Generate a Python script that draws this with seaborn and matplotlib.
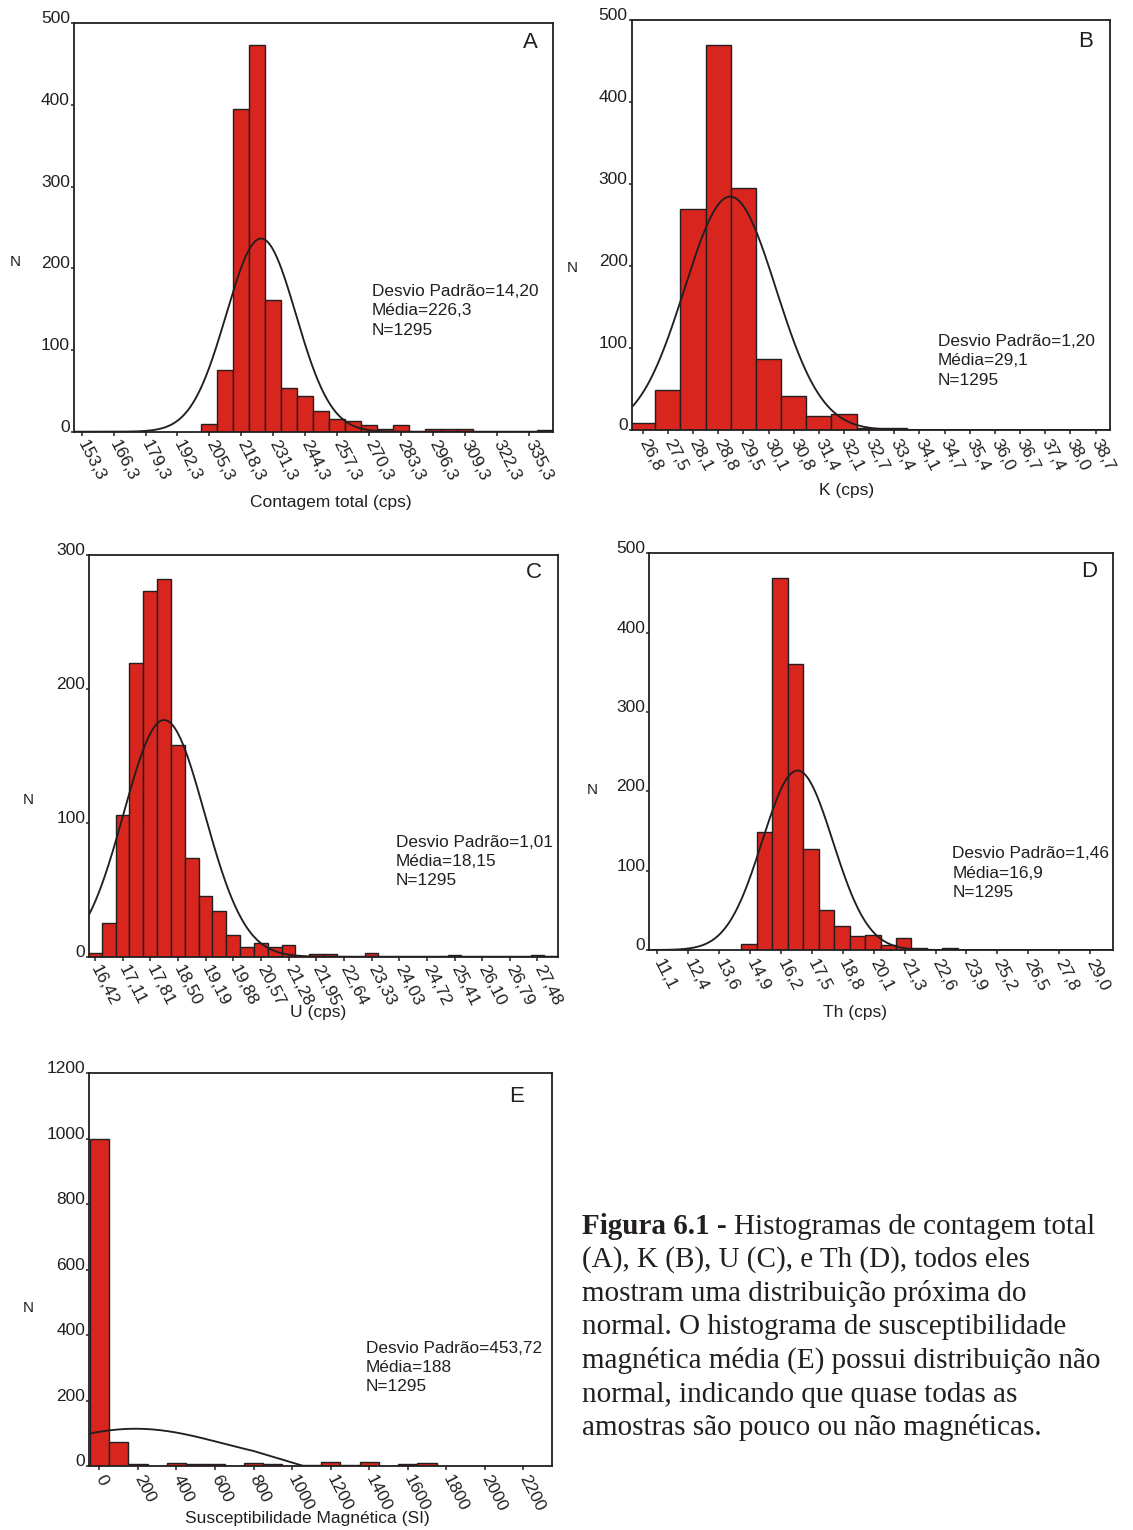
import numpy as np
import pandas as pd
import matplotlib
matplotlib.use("Agg")
import matplotlib.pyplot as plt
import seaborn as sns

# ---------------------------------------------------------------- data
# (A) contagem total
TOTAL_TICK_LABELS = ["153,3", "166,3", "179,3", "192,3", "205,3", "218,3", "231,3", "244,3",
                     "257,3", "270,3", "283,3", "296,3", "309,3", "322,3", "335,3"]
TOTAL_BIN_CENTERS = [205.3, 211.8, 218.3, 224.8, 231.3, 237.8, 244.3, 250.8, 257.3,
                     263.8, 270.3, 276.8, 283.3, 296.3, 302.8, 309.3, 341.8]
TOTAL_COUNTS = [9, 75, 395, 474, 161, 53, 44, 25, 16, 13, 8, 3, 8, 3, 3, 3, 2]
TOTAL_BIN_WIDTH = 6.5
TOTAL_SD, TOTAL_MEAN, TOTAL_N = "14,20", "226,3", 1295

# (B) potássio
K_TICK_LABELS = ["26,8", "27,5", "28,1", "28,8", "29,5", "30,1", "30,8", "31,4", "32,1", "32,7",
                 "33,4", "34,1", "34,7", "35,4", "36,0", "36,7", "37,4", "38,0", "38,7"]
K_BIN_CENTERS = [26.80, 27.46, 28.12, 28.78, 29.44, 30.11, 30.77, 31.43, 32.09, 32.75, 33.41]
K_COUNTS = [8, 49, 270, 470, 295, 87, 41, 17, 19, 3, 2]
K_BIN_WIDTH = 0.6611
K_SD, K_MEAN, K_N = "1,20", "29,1", 1295

# (C) urânio
U_TICK_LABELS = ["16,42", "17,11", "17,81", "18,50", "19,19", "19,88", "20,57", "21,28", "21,95",
                 "22,64", "23,33", "24,03", "24,72", "25,41", "26,10", "26,79", "27,48"]
U_BIN_CENTERS = [16.42, 16.77, 17.11, 17.46, 17.81, 18.15, 18.50, 18.84, 19.19, 19.53,
                 19.88, 20.22, 20.57, 20.91, 21.26, 21.95, 22.29, 23.33, 25.41, 27.48]
U_COUNTS = [3, 25, 106, 219, 273, 282, 158, 74, 45, 34, 16, 7, 10, 7, 9, 2, 2, 3, 1, 1]
U_BIN_WIDTH = 0.3456
U_SD, U_MEAN, U_N = "1,01", "18,15", 1295

# (D) tório
TH_TICK_LABELS = ["11,1", "12,4", "13,6", "14,9", "16,2", "17,5", "18,8", "20,1", "21,3", "22,6",
                  "23,9", "25,2", "26,5", "27,8", "29,0"]
TH_BIN_CENTERS = [14.90, 15.54, 16.18, 16.82, 17.46, 18.10, 18.74, 19.38, 20.01, 20.65,
                  21.29, 21.93, 23.21]
TH_COUNTS = [7, 149, 469, 361, 127, 50, 30, 18, 19, 6, 15, 3, 3]
TH_BIN_WIDTH = 0.6393
TH_SD, TH_MEAN, TH_N = "1,46", "16,9", 1295

# (E) susceptibilidade magnética
SUSC_TICK_LABELS = ["0", "200", "400", "600", "800", "1000", "1200", "1400", "1600", "1800",
                    "2000", "2200"]
SUSC_BIN_CENTERS = [0, 100, 200, 400, 500, 600, 800, 900, 1100, 1200, 1300, 1400, 1600, 1700]
SUSC_COUNTS = [1000, 73, 7, 8, 5, 5, 8, 7, 4, 13, 3, 12, 6, 10]
SUSC_BIN_WIDTH = 100
SUSC_SD, SUSC_MEAN, SUSC_N = "453,72", "188", 1295

CAPTION_HEAD = "Figura 6.1 -"
CAPTION_LINES = [
    "Histogramas de contagem total",
    "(A), K (B), U (C), e Th (D), todos eles",
    "mostram uma distribuição próxima do",
    "normal. O histograma de susceptibilidade",
    "magnética média (E) possui distribuição não",
    "normal, indicando que quase todas as",
    "amostras são pouco ou não magnéticas.",
]

# ---------------------------------------------------------------- style
W, H, DPI = 1133, 1530, 100
BAR_RED = "#d8251d"
INK = "#231f20"
SANS = ["Liberation Sans", "DejaVu Sans"]
SERIF = ["Liberation Serif", "DejaVu Serif"]
FS = 12.5

sns.set_theme(style="white")
plt.rcParams["font.family"] = SANS
plt.rcParams["text.color"] = INK
plt.rcParams["xtick.color"] = INK
plt.rcParams["ytick.color"] = INK

fig = plt.figure(figsize=(W / DPI, H / DPI), dpi=DPI)
fig.patch.set_facecolor("white")


def px_axes(left, top, right, bottom):
    return fig.add_axes([left / W, 1 - bottom / H, (right - left) / W, (bottom - top) / H])


def fig_text(x, y, s, **kw):
    return fig.text(x / W, 1 - y / H, s, **kw)


def num(txt):
    return float(txt.replace(",", "."))


def normal_curve(xs, mean, sd, n, width):
    return n * width * np.exp(-0.5 * ((xs - mean) / sd) ** 2) / (sd * np.sqrt(2 * np.pi))


def draw_panel(box, centers, counts, width, tick_labels, xlim, ymax, ystep,
               sd_txt, mean_txt, n, letter, letter_xy, xlabel, xlabel_xy,
               n_xy, stats_xy, curve_span=None):
    ax = px_axes(*box)
    centers = np.asarray(centers, dtype=float)
    nbins = int(round((centers[-1] - centers[0]) / width)) + 1
    start = centers[0] - width / 2
    df = pd.DataFrame({"valor": centers, "contagem": counts})
    sns.histplot(data=df, x="valor", weights="contagem", binwidth=width,
                 binrange=(start, start + nbins * width), stat="count",
                 color=BAR_RED, alpha=1, edgecolor=INK, linewidth=1.0, ax=ax)

    # normal curve scaled to the histogram (N * bin width * pdf)
    mean, sd = num(mean_txt), num(sd_txt)
    if curve_span is None:
        xs = np.linspace(xlim[0], xlim[1], 600)
        ys = normal_curve(xs, mean, sd, n, width)
    else:
        # curve drawn over a limited span, closing down onto the baseline
        smooth_end, close_at = curve_span
        xs = np.linspace(xlim[0], smooth_end, 300)
        ys = normal_curve(xs, mean, sd, n, width)
        xs = np.append(xs, close_at)
        ys = np.append(ys, 0.0)
    sns.lineplot(x=xs, y=ys, color=INK, linewidth=1.35, ax=ax, sort=False)

    ax.set_xlim(*xlim)
    ax.set_ylim(0, ymax)
    ticks = np.linspace(num(tick_labels[0]), num(tick_labels[-1]), len(tick_labels))
    ax.set_xticks(ticks)
    ax.set_xticklabels(tick_labels, rotation=-63, rotation_mode="anchor",
                       ha="left", va="center", fontsize=FS)
    yt = np.arange(0, ymax + 1, ystep)
    ax.set_yticks(yt)
    ax.set_yticklabels([str(v) for v in yt], fontsize=FS)
    for lbl in ax.get_yticklabels():
        lbl.set_va("baseline")
    ax.tick_params(axis="x", bottom=True, direction="out", length=3, width=1.1, pad=4)
    ax.tick_params(axis="y", left=True, direction="out", length=2, width=1.1, pad=1)
    ax.set_xlabel("")
    ax.set_ylabel("")
    for sp in ax.spines.values():
        sp.set_visible(True)
        sp.set_color(INK)
        sp.set_linewidth(1.3)
    ax.grid(False)

    fig_text(*letter_xy, letter, fontsize=16, ha="center", va="center")
    fig_text(*xlabel_xy, xlabel, fontsize=FS, ha="center", va="center")
    fig_text(*n_xy, "N", fontsize=11, ha="center", va="center")
    sx, sy = stats_xy
    lines = [f"Desvio Padrão={sd_txt}", f"Média={mean_txt}", f"N={n}"]
    for i, line in enumerate(lines):
        fig_text(sx, sy + i * 19.3, line, fontsize=12.4, ha="left", va="center")
    return ax


draw_panel((74, 23.3, 553, 431.7), TOTAL_BIN_CENTERS, TOTAL_COUNTS, TOTAL_BIN_WIDTH,
           TOTAL_TICK_LABELS, (150.2, 345.05), 500, 100, TOTAL_SD, TOTAL_MEAN, TOTAL_N,
           "A", (530, 42), "Contagem total (cps)", (331, 502), (15, 262), (372, 291.5))

draw_panel((631.7, 20, 1110, 430), K_BIN_CENTERS, K_COUNTS, K_BIN_WIDTH,
           K_TICK_LABELS, (26.51, 39.08), 500, 100, K_SD, K_MEAN, K_N,
           "B", (1086, 41.5), "K (cps)", (847, 490), (572, 268), (938, 341.5))

draw_panel((89.3, 555, 558.3, 956.7), U_BIN_CENTERS, U_COUNTS, U_BIN_WIDTH,
           U_TICK_LABELS, (16.28, 28.0), 300, 100, U_SD, U_MEAN, U_N,
           "C", (534, 573), "U (cps)", (318, 1012), (28, 800), (395.5, 842.3))

draw_panel((649.3, 553.3, 1113.3, 950), TH_BIN_CENTERS, TH_COUNTS, TH_BIN_WIDTH,
           TH_TICK_LABELS, (10.77, 29.96), 500, 100, TH_SD, TH_MEAN, TH_N,
           "D", (1089, 571.5), "Th (cps)", (855, 1012), (592, 790), (952.5, 854))

draw_panel((89.3, 1073.3, 551.7, 1466), SUSC_BIN_CENTERS, SUSC_COUNTS, SUSC_BIN_WIDTH,
           SUSC_TICK_LABELS, (-52, 2347), 1200, 200, SUSC_SD, SUSC_MEAN, SUSC_N,
           "E", (517, 1096.5), "Susceptibilidade Magnética (SI)", (307, 1519), (28, 1308),
           (365.5, 1348.3), curve_span=(800, 1060))

# caption, first words in bold
CAP_X, CAP_Y0, CAP_DY, CAP_SIZE = 582, 1233.5, 33.6, 21
head = fig_text(CAP_X, CAP_Y0, CAPTION_HEAD, fontsize=CAP_SIZE, fontweight="bold",
                family=SERIF, ha="left", va="baseline")
fig.canvas.draw()
bb = head.get_window_extent(renderer=fig.canvas.get_renderer())
fig_text(bb.x1 + 7, CAP_Y0, CAPTION_LINES[0], fontsize=CAP_SIZE, family=SERIF,
         ha="left", va="baseline")
for i, line in enumerate(CAPTION_LINES[1:], start=1):
    fig_text(CAP_X, CAP_Y0 + i * CAP_DY, line, fontsize=CAP_SIZE, family=SERIF,
             ha="left", va="baseline")

fig.savefig("out.png", dpi=DPI, facecolor="white")
